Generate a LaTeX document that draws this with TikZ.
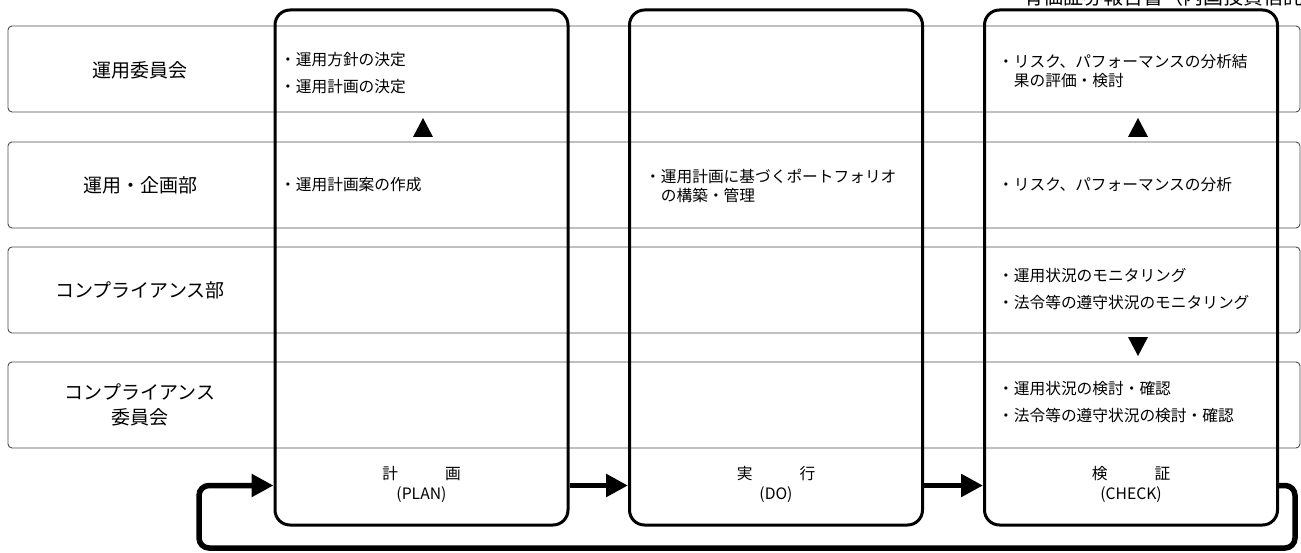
\documentclass[tikz,border=0pt]{standalone}
\usepackage{fontspec}
\setmainfont{Noto Sans CJK JP}
\usetikzlibrary{arrows.meta}
\begin{document}
\begin{tikzpicture}[x=1pt,y=-1pt,
  rowbox/.style={draw=black!70, line width=0.9pt, rounded corners=4pt, minimum width=1292pt, minimum height=86pt, inner sep=0pt},
  colbox/.style={draw=black, line width=3pt, rounded corners=15pt, minimum width=293pt, minimum height=515pt, inner sep=0pt},
  lab/.style={font=\fontsize{19}{25}\selectfont, align=center, inner sep=0pt},
  txt/.style={font=\fontsize{15.7}{18.5}\selectfont, align=left, anchor=west, inner sep=0pt},
  phase/.style={font=\fontsize{15.7}{20}\selectfont, align=center, inner sep=0pt},
  flow/.style={line width=5.5pt, -{Triangle[length=22pt,width=22pt]}},
  tri/.style={fill=black}
]
\useasboundingbox (0,0) rectangle (1301,553);
\clip (0,0) rectangle (1301,553);

% header (cut off at the top edge, as in the reference)
\node[anchor=base west, inner sep=0pt, font=\fontsize{20}{24}\selectfont] (hdr) at (1023,5) {有価証券報告書（内国投資信託};

% rows
\node[rowbox] (r1) at (654,69) {};
\node[rowbox] (r2) at (654,185) {};
\node[rowbox] (r3) at (654,290) {};
\node[rowbox] (r4) at (654,405) {};

\node[lab] (l1) at (140,70) {運用委員会};
\node[lab] (l2) at (140,185) {運用・企画部};
\node[lab] (l3) at (140,290) {コンプライアンス部};
\node[lab] (l4) at (140,405) {コンプライアンス\\委員会};

% columns
\node[colbox] (plan) at (421.5,267.5) {};
\node[colbox] (do) at (776,267.5) {};
\node[colbox] (check) at (1131,267.5) {};

% texts in columns
\node[txt] (p1) at (280,60) {・運用方針の決定};
\node[txt] (p2) at (280,87) {・運用計画の決定};
\node[txt] (p3) at (280,185) {・運用計画案の作成};
\node[txt] (d1) at (645,186) {・運用計画に基づくポートフォリオ\\　の構築・管理};
\node[txt] (c1) at (998,71) {・リスク、パフォーマンスの分析結\\　果の評価・検討};
\node[txt] (c2) at (998,185) {・リスク、パフォーマンスの分析};
\node[txt] (c3) at (998,276) {・運用状況のモニタリング};
\node[txt] (c4) at (998,303) {・法令等の遵守状況のモニタリング};
\node[txt] (c5) at (998,389) {・運用状況の検討・確認};
\node[txt] (c6) at (998,416) {・法令等の遵守状況の検討・確認};

% phase labels
\node[phase] (pl) at (421.5,484) {計　　　画\\(PLAN)};
\node[phase] (dl) at (776,484) {実　　　行\\(DO)};
\node[phase] (cl) at (1131,484) {検　　　証\\(CHECK)};

% triangles
\fill[tri] (413,137) -- (433,137) -- (423,118) -- cycle;
\fill[tri] (1128,137) -- (1148,137) -- (1138,118) -- cycle;
\fill[tri] (1128,337) -- (1148,337) -- (1138,356) -- cycle;

% flow arrows
\coordinate (yl) at (0,485.5);
\coordinate (lr) at (1295,548);
\coordinate (ll) at (199,548);
\draw[flow] (plan.east |- yl) -- (do.west |- yl);
\draw[flow] (do.east |- yl) -- (check.west |- yl);
\draw[flow, rounded corners=10pt] (check.east |- yl) -| (lr) -| (ll |- yl) -- (plan.west |- yl);
\end{tikzpicture}
\end{document}
